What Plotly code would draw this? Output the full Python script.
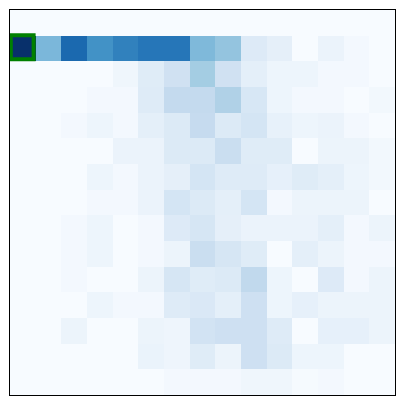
import plotly.graph_objects as go

cols = list(range(15))
rows = list(range(15))

row_0 = [0.0] * 15
row_1 = [1.0, 0.46, 0.78, 0.625, 0.69, 0.73, 0.73, 0.45, 0.40, 0.13, 0.09, 0.0, 0.06, 0.02, 0.0]
row_2 = [0.0, 0.0, 0.0, 0.0, 0.04, 0.12, 0.2, 0.355, 0.2, 0.095, 0.05, 0.05, 0.02, 0.02, 0.0]
row_3 = [0.0, 0.0, 0.0, 0.02, 0.02, 0.125, 0.255, 0.255, 0.32, 0.16, 0.05, 0.02, 0.02, 0.0, 0.025]
row_4 = [0.0, 0.0, 0.02, 0.05, 0.02, 0.095, 0.135, 0.25, 0.135, 0.175, 0.08, 0.05, 0.06, 0.02, 0.0]
row_5 = [0.0, 0.0, 0.0, 0.0, 0.06, 0.06, 0.135, 0.135, 0.23, 0.12, 0.12, 0.0, 0.055, 0.055, 0.025]
row_6 = [0.0, 0.0, 0.0, 0.05, 0.02, 0.06, 0.09, 0.175, 0.125, 0.125, 0.085, 0.12, 0.095, 0.05, 0.025]
row_7 = [0.0, 0.0, 0.0, 0.02, 0.02, 0.06, 0.175, 0.135, 0.095, 0.175, 0.02, 0.055, 0.055, 0.055, 0.0]
row_8 = [0.0, 0.0, 0.02, 0.05, 0.0, 0.02, 0.13, 0.165, 0.09, 0.06, 0.06, 0.06, 0.095, 0.02, 0.055]
row_9 = [0.0, 0.0, 0.02, 0.05, 0.0, 0.02, 0.055, 0.23, 0.165, 0.12, 0.0, 0.095, 0.055, 0.02, 0.02]
row_10 = [0.0, 0.0, 0.02, 0.0, 0.0, 0.055, 0.165, 0.12, 0.135, 0.265, 0.05, 0.0, 0.13, 0.02, 0.055]
row_11 = [0.0, 0.0, 0.0, 0.05, 0.02, 0.02, 0.125, 0.145, 0.095, 0.21, 0.05, 0.085, 0.055, 0.055, 0.055]
row_12 = [0.0, 0.0, 0.055, 0.0, 0.0, 0.055, 0.045, 0.19, 0.21, 0.21, 0.125, 0.0, 0.085, 0.085, 0.055]
row_13 = [0.0, 0.0, 0.0, 0.0, 0.0, 0.065, 0.045, 0.12, 0.055, 0.21, 0.135, 0.05, 0.05, 0.0, 0.0]
row_14 = [0.0, 0.0, 0.0, 0.0, 0.0, 0.0, 0.02, 0.02, 0.02, 0.04, 0.04, 0.01, 0.02, 0.0, 0.0]

z = [row_0, row_1, row_2, row_3, row_4, row_5, row_6, row_7,
     row_8, row_9, row_10, row_11, row_12, row_13, row_14]

highlight_row = 1
highlight_col = 0

blues = [
    [0.0, "rgb(247,251,255)"], [0.125, "rgb(222,235,247)"],
    [0.25, "rgb(198,219,239)"], [0.375, "rgb(158,202,225)"],
    [0.5, "rgb(107,174,214)"], [0.625, "rgb(66,146,198)"],
    [0.75, "rgb(33,113,181)"], [0.875, "rgb(8,81,156)"],
    [1.0, "rgb(8,48,107)"],
]

fig = go.Figure(go.Heatmap(
    z=z, x=cols, y=rows, colorscale=blues, zmin=0, zmax=1,
    showscale=False, xgap=0, ygap=0,
))

fig.add_shape(
    type="rect", xref="x", yref="y",
    x0=highlight_col - 0.47, x1=highlight_col + 0.42,
    y0=highlight_row - 0.52, y1=highlight_row + 0.42,
    line=dict(color="green", width=4), fillcolor="rgba(0,0,0,0)",
)

fig.update_xaxes(range=[-0.5, 14.5], showticklabels=False, ticks="",
                 showgrid=False, zeroline=False, showline=True,
                 linecolor="black", linewidth=1, mirror=True)
fig.update_yaxes(range=[14.5, -0.5], showticklabels=False, ticks="",
                 showgrid=False, zeroline=False, showline=True,
                 linecolor="black", linewidth=1, mirror=True)

fig.update_layout(
    width=397, height=397,
    margin=dict(l=2, r=10, t=2, b=10),
    paper_bgcolor="white", plot_bgcolor="white",
    showlegend=False,
)

fig.write_html("out.html")
